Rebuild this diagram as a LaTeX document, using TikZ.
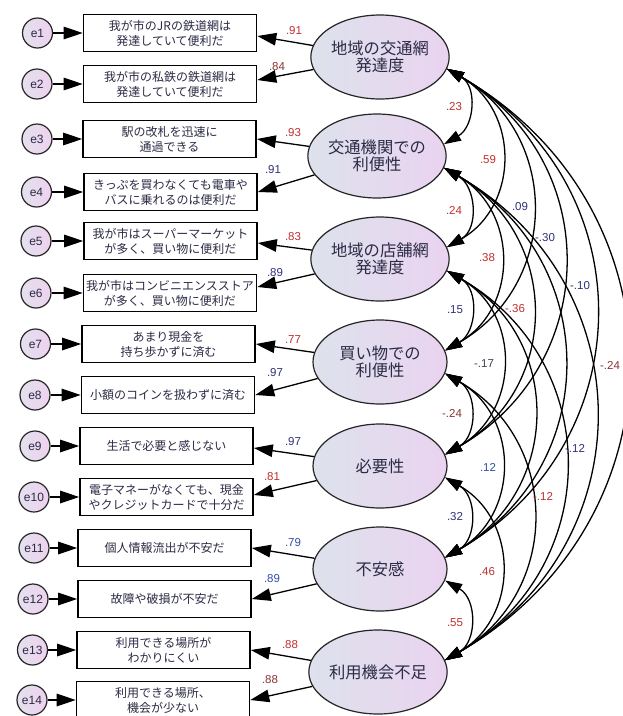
\documentclass[tikz,border=0pt]{standalone}
\usepackage{fontspec}
\newfontfamily\jp{Noto Sans CJK JP}
\newfontfamily\numf{Liberation Sans}
\usetikzlibrary{arrows.meta,shapes.geometric}
\definecolor{latL}{HTML}{DDE2EC}
\definecolor{latR}{HTML}{EAD3F0}
\definecolor{errL}{HTML}{E4E0EE}
\definecolor{errR}{HTML}{EED2EE}
\definecolor{txt}{HTML}{2B2B45}
\definecolor{numred}{HTML}{C03030}
\definecolor{numdred}{HTML}{8A3434}
\definecolor{numnavy}{HTML}{30307A}
\definecolor{numblue}{HTML}{3050A8}
\definecolor{numgray}{HTML}{444450}
\tikzset{
  latent/.style={ellipse, draw=black!85, line width=1.2pt, left color=latL, right color=latR,
    minimum width=134pt, minimum height=84pt, inner sep=0pt,
    font=\jp\fontsize{16.3}{17.5}\selectfont, text=txt, align=center},
  obs/.style={rectangle, draw=black, line width=1.6pt, fill=white,
    minimum width=173pt, minimum height=37pt, inner sep=0pt,
    font=\jp\fontsize{12}{15}\selectfont, text=txt, align=center},
  err/.style={circle, draw=black!85, line width=1.2pt, left color=errL, right color=errR,
    minimum size=30pt, inner sep=0pt, font=\numf\fontsize{12}{12}\selectfont, text=txt},
  load/.style={line width=1.3pt, -{Triangle[length=19pt,width=12.5pt]}},
  cov/.style={line width=1.3pt, {Triangle[length=17pt,width=11pt]}-{Triangle[length=17pt,width=11pt]}},
  est/.style={font=\numf\fontsize{11.5}{12}\selectfont, inner sep=0pt},
}
\begin{document}
\begin{tikzpicture}[x=1pt,y=-1pt]
\clip (0,0) rectangle (623,716);
\fill[white] (0,0) rectangle (623,716);

% latent variables
\node[latent] (L1) at (380,57)  {地域の交通網\\発達度};
\node[latent] (L2) at (377,156) {交通機関での\\利便性};
\node[latent] (L3) at (380,259) {地域の店舗網\\発達度};
\node[latent] (L4) at (380,362) {買い物での\\利便性};
\node[latent] (L5) at (380,466) {必要性};
\node[latent] (L6) at (380,569) {不安感};
\node[latent] (L7) at (378,672) {利用機会不足};

% observed variables
\node[obs] (b1)  at (170,33)    {我が市のJRの鉄道網は\\発達していて便利だ};
\node[obs] (b2)  at (170,84)    {我が市の私鉄の鉄道網は\\発達していて便利だ};
\node[obs] (b3)  at (169.5,139) {駅の改札を迅速に\\通過できる};
\node[obs] (b4)  at (170.5,192) {きっぷを買わなくても電車や\\バスに乗れるのは便利だ};
\node[obs] (b5)  at (170.5,241) {我が市はスーパーマーケット\\が多く、買い物に便利だ};
\node[obs] (b6)  at (170,293)   {我が市はコンビニエンスストア\\が多く、買い物に便利だ};
\node[obs] (b7)  at (168.5,344) {あまり現金を\\持ち歩かずに済む};
\node[obs] (b8)  at (168,395)   {小額のコインを扱わずに済む};
\node[obs] (b9)  at (166.5,446) {生活で必要と感じない};
\node[obs] (b10) at (166.5,497) {電子マネーがなくても、現金\\やクレジットカードで十分だ};
\node[obs] (b11) at (164.5,548) {個人情報流出が不安だ};
\node[obs] (b12) at (164.5,599) {故障や破損が不安だ};
\node[obs] (b13) at (163.5,650) {利用できる場所が\\わかりにくい};
\node[obs] (b14) at (163,700)   {利用できる場所、\\機会が少ない};

% error terms
\node[err] (e1)  at (37.5,33)  {e1};
\node[err] (e2)  at (37,84)    {e2};
\node[err] (e3)  at (37,139)   {e3};
\node[err] (e4)  at (36.5,192) {e4};
\node[err] (e5)  at (36,241)   {e5};
\node[err] (e6)  at (36,293)   {e6};
\node[err] (e7)  at (35.5,344) {e7};
\node[err] (e8)  at (35,395)   {e8};
\node[err] (e9)  at (35,446)   {e9};
\node[err] (e10) at (34,497)   {e10};
\node[err] (e11) at (34,548)   {e11};
\node[err] (e12) at (33,599)   {e12};
\node[err] (e13) at (32.5,650) {e13};
\node[err] (e14) at (32,700)   {e14};

\foreach \k in {1,...,14} { \draw[load] (e\k) -- (b\k); }

% loadings
\draw[load] (L1) -- ([yshift=-3pt]b1.east);
\draw[load] (L1) -- ([yshift=4pt]b2.east);
\draw[load] (L2) -- (b3.east);
\draw[load] (L2) -- (b4.east);
\draw[load] (L3) -- ([yshift=-2pt]b5.east);
\draw[load] (L3) -- ([yshift=6pt]b6.east);
\draw[load] (L4) -- (b7.east);
\draw[load] (L4) -- (b8.east);
\draw[load] (L5) -- ([yshift=-2pt]b9.east);
\draw[load] (L5) -- ([yshift=2pt]b10.east);
\draw[load] (L6) -- (b11.east);
\draw[load] (L6) -- (b12.east);
\draw[load] (L7) -- (b13.east);
\draw[load] (L7) -- (b14.east);

\node[est,text=numred]  (w1)  at (294,31)  {.91};
\node[est,text=numdred] (w2)  at (277,67)  {.84};
\node[est,text=numred]  (w3)  at (293,133) {.93};
\node[est,text=numnavy] (w4)  at (273,170) {.91};
\node[est,text=numred]  (w5)  at (293,237) {.83};
\node[est,text=numnavy] (w6)  at (275,273) {.89};
\node[est,text=numred]  (w7)  at (293,340) {.77};
\node[est,text=numnavy] (w8)  at (275,373) {.97};
\node[est,text=numnavy] (w9)  at (293,442) {.97};
\node[est,text=numred]  (w10) at (272,477) {.81};
\node[est,text=numblue] (w11) at (293,543) {.79};
\node[est,text=numblue] (w12) at (272,579) {.89};
\node[est,text=numred]  (w13) at (290,645) {.88};
\node[est,text=numdred] (w14) at (270,680) {.88};

% covariances
\def\cys{{57,156,259,362,466,569,672}}
\foreach \i/\j in {1/2,1/3,1/4,1/5,1/6,1/7,2/3,2/4,2/5,2/6,2/7,3/4,3/5,3/6,3/7,4/5,4/6,4/7,5/6,5/7,6/7} {
  \pgfmathsetmacro\h{0.47*(\cys[\j-1]-\cys[\i-1]-24)}
  \pgfmathsetmacro\hx{0.866*\h}
  \pgfmathsetmacro\hy{0.5*\h}
  \draw[cov] (L\i.-10) .. controls +(\hx,\hy) and +(\hx,-\hy) .. (L\j.10);
}

\node[est,text=numred]  (c12) at (454,107) {.23};
\node[est,text=numred]  (c13) at (488,160) {.59};
\node[est,text=numnavy] (c14) at (520,207) {.09};
\node[est,text=numnavy] (c15) at (545,238) {-.30};
\node[est,text=numnavy] (c16) at (580,286) {-.10};
\node[est,text=numdred] (c17) at (610,365) {-.24};
\node[est,text=numred]  (c23) at (454,210) {.24};
\node[est,text=numred]  (c24) at (487,258) {.38};
\node[est,text=numred]  (c25) at (515,309) {-.36};
\node[est,text=numnavy] (c34) at (455,310) {.15};
\node[est,text=numgray] (c35) at (484,364) {-.17};
\node[est,text=numdred] (c45) at (452,413) {-.24};
\node[est,text=numnavy] (ca)  at (575,448) {-.12};
\node[est,text=numblue] (c46) at (488,467) {.12};
\node[est,text=numred]  (cb)  at (543,496) {-.12};
\node[est,text=numnavy] (c56) at (455,517) {.32};
\node[est,text=numred]  (c57) at (487,572) {.46};
\node[est,text=numred]  (c67) at (455,623) {.55};
\end{tikzpicture}
\end{document}
